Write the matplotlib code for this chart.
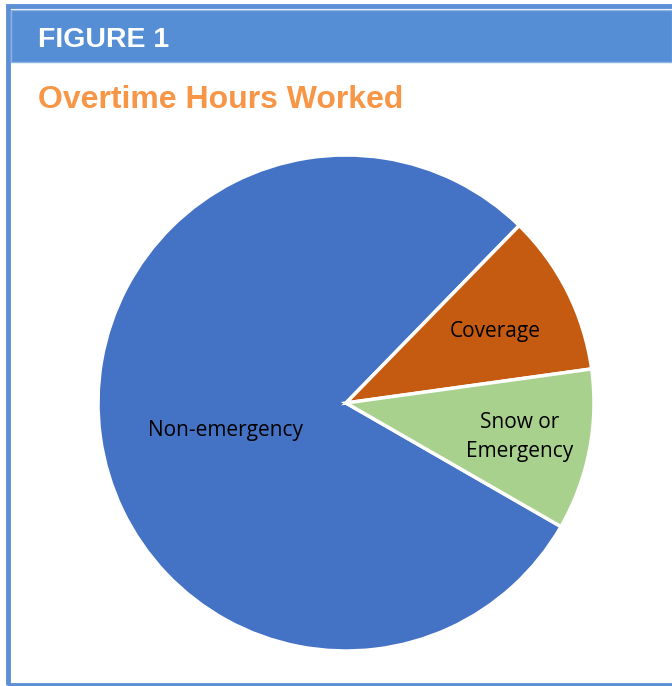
import matplotlib.pyplot as plt
from matplotlib.patches import Rectangle

categories = ["Non-emergency", "Coverage", "Snow or\nEmergency"]
hours = [79.0, 10.5, 10.5]
colors = ["#4472C4", "#C55A11", "#A9D18E"]
# label positions in pie units (radius = 1)
label_xy = [(-0.484, -0.11), (0.601, 0.29), (0.702, -0.137)]

fig = plt.figure(figsize=(6.72, 6.86), dpi=100)
W, H = 672, 686

# frame + header
fig.patches.append(Rectangle((8/W, 1-685/H), 672/W, 679/H, transform=fig.transFigure,
                             fill=False, edgecolor="#5B8FD6", lw=3.5))
fig.patches.append(Rectangle((11/W, 1-62/H), 661/W, 52/H, transform=fig.transFigure,
                             facecolor="#558ED5", edgecolor="#8DB3E2", lw=1))
fig.text(38/W, 1-40/H, "FIGURE 1", color="white", fontsize=20.5, fontweight="bold",
         family="Liberation Sans", va="center", ha="left")
fig.text(38/W, 1-100/H, "Overtime Hours Worked", color="#F79646", fontsize=23,
         fontweight="bold", family="Liberation Sans", va="center", ha="left")

# pie
cx, cy, r = 346, 403, 248
ax = fig.add_axes([(cx-r)/W, (H-cy-r)/H, 2*r/W, 2*r/H])
wedges, _ = ax.pie(hours, colors=colors, startangle=-29.9, counterclock=False,
                   wedgeprops=dict(edgecolor="white", linewidth=2.5))
ax.set_aspect("equal")
ax.set_xlim(-1, 1)
ax.set_ylim(-1, 1)
ax.axis("off")

for lab, (x, y) in zip(categories, label_xy):
    ax.text(x, y, lab, ha="center", va="center", fontsize=15,
            family="Open Sans", linespacing=1.45)

fig.savefig("out.png", dpi=100)
